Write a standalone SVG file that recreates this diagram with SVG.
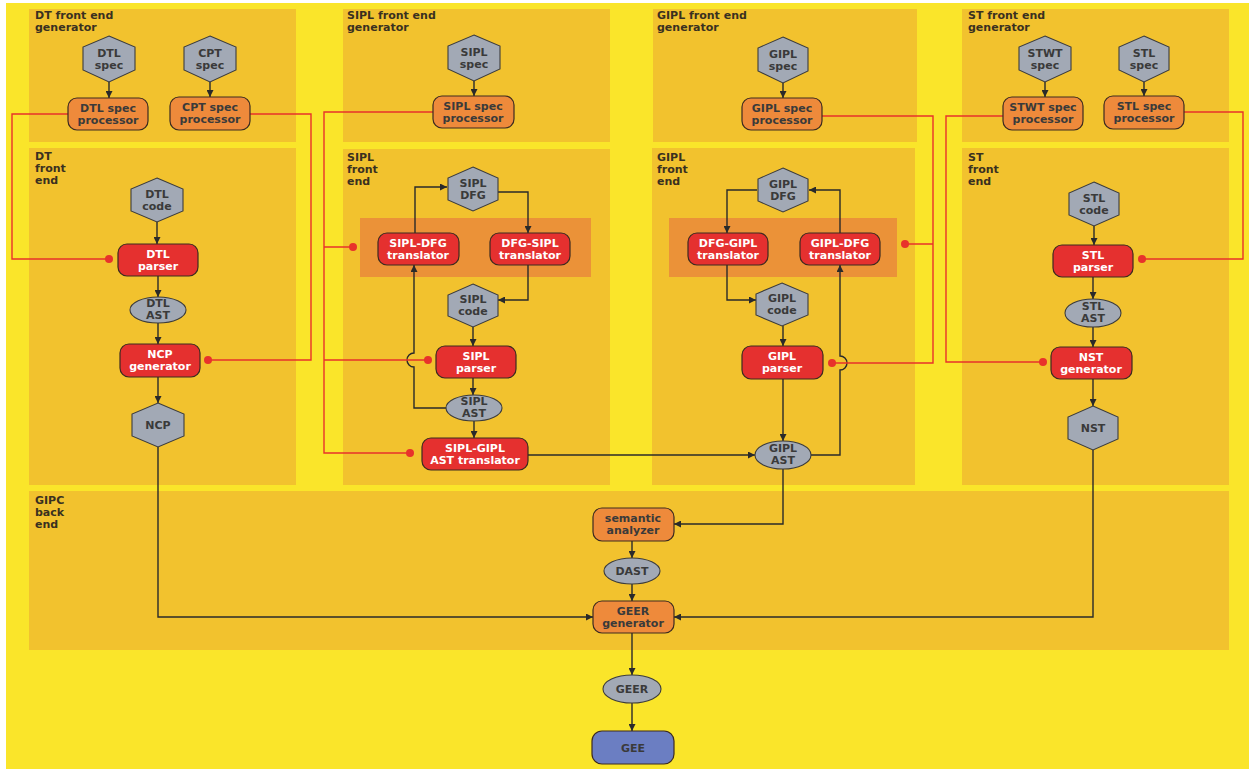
<svg xmlns="http://www.w3.org/2000/svg" width="1255" height="771" viewBox="0 0 1255 771">
<style>
.panel{fill:#F2C22E}
.band{fill:#EB9238}
.lbl{font-family:"DejaVu Sans",Verdana,sans-serif;font-weight:bold;font-size:11px;fill:#3A3020}
.t{font-family:"DejaVu Sans",Verdana,sans-serif;font-weight:bold;font-size:11px;text-anchor:middle;fill:#3A3A3A}
.w{fill:#FFFFFF}
.hex,.ell{fill:#A2A9B5;stroke:#3C3C3C;stroke-width:1.1}
.red{fill:#E5302F;stroke:#3C2A20;stroke-width:1.2}
.org{fill:#EE8A3B;stroke:#3C2A20;stroke-width:1.2}
.blue{fill:#6B7EC2;stroke:#3C2A20;stroke-width:1.2}
.c{fill:none;stroke:#2A2A2A;stroke-width:1.4}
.rl{fill:none;stroke:#E8322B;stroke-width:1.4}
.dot{fill:#E8322B}
</style>
<defs>
<marker id="ar" viewBox="0 0 10 10" refX="10" refY="5" markerWidth="7" markerHeight="7" markerUnits="userSpaceOnUse" orient="auto">
<path d="M0,0 L10,5 L0,10 z" fill="#2A2A2A"/>
</marker>
</defs>
<rect x="0" y="0" width="1255" height="771" fill="#FFFFFF"/>
<rect x="6" y="3" width="1243" height="766" fill="#FAE52A"/>

<g id="panels">
<rect class="panel" x="29" y="9" width="267" height="133"/>
<rect class="panel" x="29" y="148" width="267" height="337"/>
<rect class="panel" x="343" y="9" width="267" height="133"/>
<rect class="panel" x="343" y="149" width="267" height="336"/>
<rect class="panel" x="653" y="9" width="264" height="133"/>
<rect class="panel" x="652" y="148" width="263" height="337"/>
<rect class="panel" x="962" y="9" width="267" height="133"/>
<rect class="panel" x="962" y="148" width="267" height="337"/>
<rect class="panel" x="29" y="491" width="1200" height="159"/>
<rect class="band" x="360" y="218" width="231" height="59"/>
<rect class="band" x="669" y="218" width="228" height="59"/>
<text class="lbl" x="35" y="19">DT front end</text><text class="lbl" x="35" y="31">generator</text>
<text class="lbl" x="347" y="19">SIPL front end</text><text class="lbl" x="347" y="31">generator</text>
<text class="lbl" x="657" y="19">GIPL front end</text><text class="lbl" x="657" y="31">generator</text>
<text class="lbl" x="968" y="19">ST front end</text><text class="lbl" x="968" y="31">generator</text>
<text class="lbl" x="35" y="160">DT</text><text class="lbl" x="35" y="172">front</text><text class="lbl" x="35" y="184">end</text>
<text class="lbl" x="347" y="161">SIPL</text><text class="lbl" x="347" y="173">front</text><text class="lbl" x="347" y="185">end</text>
<text class="lbl" x="657" y="161">GIPL</text><text class="lbl" x="657" y="173">front</text><text class="lbl" x="657" y="185">end</text>
<text class="lbl" x="968" y="161">ST</text><text class="lbl" x="968" y="173">front</text><text class="lbl" x="968" y="185">end</text>
<text class="lbl" x="35" y="504">GIPC</text><text class="lbl" x="35" y="516">back</text><text class="lbl" x="35" y="528">end</text>
</g>

<g id="connectors">
<path class="c" marker-end="url(#ar)" d="M109,82 V98"/>
<path class="c" marker-end="url(#ar)" d="M210,82 V97"/>
<path class="c" marker-end="url(#ar)" d="M474,81 V96"/>
<path class="c" marker-end="url(#ar)" d="M783,83 V98"/>
<path class="c" marker-end="url(#ar)" d="M1045,82 V97"/>
<path class="c" marker-end="url(#ar)" d="M1144,82 V96"/>
<path class="c" marker-end="url(#ar)" d="M157,222 V244"/>
<path class="c" marker-end="url(#ar)" d="M158,276 V297"/>
<path class="c" marker-end="url(#ar)" d="M158,323 V344"/>
<path class="c" marker-end="url(#ar)" d="M158,377 V403"/>
<path class="c" marker-end="url(#ar)" d="M158,447 V617 H593"/>
<path class="c" marker-end="url(#ar)" d="M415,233 V187 H447"/>
<path class="c" marker-end="url(#ar)" d="M498,192 H528 V233"/>
<path class="c" marker-end="url(#ar)" d="M528,265 V300 H498"/>
<path class="c" marker-end="url(#ar)" d="M473,327 V346"/>
<path class="c" marker-end="url(#ar)" d="M473,378 V395"/>
<path class="c" marker-end="url(#ar)" d="M446,408 H414 V367 A7,7 0 0 1 414,353 V265"/>
<path class="c" marker-end="url(#ar)" d="M474,421 V438"/>
<path class="c" marker-end="url(#ar)" d="M528,455 H755"/>
<path class="c" marker-end="url(#ar)" d="M757,190 H727 V233"/>
<path class="c" marker-end="url(#ar)" d="M840,233 V190 H809"/>
<path class="c" marker-end="url(#ar)" d="M727,265 V300 H756"/>
<path class="c" marker-end="url(#ar)" d="M783,326 V346"/>
<path class="c" marker-end="url(#ar)" d="M783,379 V441"/>
<path class="c" marker-end="url(#ar)" d="M811,455 H840 V370 A7,7 0 0 0 840,356 V265"/>
<path class="c" marker-end="url(#ar)" d="M783,469 V524 H674"/>
<path class="c" marker-end="url(#ar)" d="M632,541 V558"/>
<path class="c" marker-end="url(#ar)" d="M632,584 V601"/>
<path class="c" marker-end="url(#ar)" d="M632,633 V675"/>
<path class="c" marker-end="url(#ar)" d="M632,703 V731"/>
<path class="c" marker-end="url(#ar)" d="M1094,226 V245"/>
<path class="c" marker-end="url(#ar)" d="M1093,277 V299"/>
<path class="c" marker-end="url(#ar)" d="M1093,327 V347"/>
<path class="c" marker-end="url(#ar)" d="M1093,379 V406"/>
<path class="c" marker-end="url(#ar)" d="M1093,450 V617 H674"/>
<path class="rl" d="M68,114 H12 V259 H109"/>
<circle class="dot" cx="109" cy="259" r="4"/>
<path class="rl" d="M250,114 H311 V360 H208"/>
<circle class="dot" cx="208" cy="360" r="4"/>
<path class="rl" d="M433,112 H324 V453 H410 M324,247 H353 M324,360 H428"/>
<circle class="dot" cx="353" cy="247" r="4"/>
<circle class="dot" cx="428" cy="360" r="4"/>
<circle class="dot" cx="410" cy="453" r="4"/>
<path class="rl" d="M822,116 H933 V363 H832 M933,244 H905"/>
<circle class="dot" cx="905" cy="244" r="4"/>
<circle class="dot" cx="832" cy="363" r="4"/>
<path class="rl" d="M1003,116 H946 V362 H1043"/>
<circle class="dot" cx="1043" cy="362" r="4"/>
<path class="rl" d="M1184,112 H1243 V259 H1142"/>
<circle class="dot" cx="1142" cy="259" r="4"/>
</g>

<g id="dtl-spec"><polygon class="hex" points="109,36 135,47 135,70 109,82 83,70 83,47"/><text class="t" x="109" y="57">DTL</text><text class="t" x="109" y="69">spec</text></g>
<g id="cpt-spec"><polygon class="hex" points="210,36 236,47 236,70 210,82 184,70 184,47"/><text class="t" x="210" y="57">CPT</text><text class="t" x="210" y="69">spec</text></g>
<g id="dtl-spec-processor"><rect class="org" x="68" y="98" width="80" height="32" rx="9"/><text class="t" x="108" y="112">DTL spec</text><text class="t" x="108" y="124">processor</text></g>
<g id="cpt-spec-processor"><rect class="org" x="170" y="97" width="80" height="33" rx="9"/><text class="t" x="210" y="111">CPT spec</text><text class="t" x="210" y="123">processor</text></g>

<g id="sipl-spec"><polygon class="hex" points="474,35 500,46 500,69 474,81 448,69 448,46"/><text class="t" x="474" y="56">SIPL</text><text class="t" x="474" y="68">spec</text></g>
<g id="sipl-spec-processor"><rect class="org" x="433" y="96" width="81" height="32" rx="9"/><text class="t" x="473" y="110">SIPL spec</text><text class="t" x="473" y="122">processor</text></g>

<g id="gipl-spec"><polygon class="hex" points="783,37 808,48 808,71 783,83 758,71 758,48"/><text class="t" x="783" y="58">GIPL</text><text class="t" x="783" y="70">spec</text></g>
<g id="gipl-spec-processor"><rect class="org" x="742" y="98" width="80" height="32" rx="9"/><text class="t" x="782" y="112">GIPL spec</text><text class="t" x="782" y="124">processor</text></g>

<g id="stwt-spec"><polygon class="hex" points="1045,36 1071,47 1071,70 1045,82 1019,70 1019,47"/><text class="t" x="1045" y="57">STWT</text><text class="t" x="1045" y="69">spec</text></g>
<g id="stl-spec"><polygon class="hex" points="1144,36 1169,47 1169,70 1144,82 1119,70 1119,47"/><text class="t" x="1144" y="57">STL</text><text class="t" x="1144" y="69">spec</text></g>
<g id="stwt-spec-processor"><rect class="org" x="1003" y="97" width="80" height="33" rx="9"/><text class="t" x="1043" y="111">STWT spec</text><text class="t" x="1043" y="123">processor</text></g>
<g id="stl-spec-processor"><rect class="org" x="1104" y="96" width="80" height="33" rx="9"/><text class="t" x="1144" y="110">STL spec</text><text class="t" x="1144" y="122">processor</text></g>

<g id="dtl-code"><polygon class="hex" points="157,178 183,189 183,211 157,222 131,211 131,189"/><text class="t" x="157" y="198">DTL</text><text class="t" x="157" y="210">code</text></g>
<g id="dtl-parser"><rect class="red" x="118" y="244" width="80" height="32" rx="9"/><text class="t w" x="158" y="258">DTL</text><text class="t w" x="158" y="270">parser</text></g>
<g id="dtl-ast"><ellipse class="ell" cx="158" cy="310" rx="28" ry="13"/><text class="t" x="158" y="307">DTL</text><text class="t" x="158" y="319">AST</text></g>
<g id="ncp-generator"><rect class="red" x="120" y="344" width="80" height="33" rx="9"/><text class="t w" x="160" y="358">NCP</text><text class="t w" x="160" y="370">generator</text></g>
<g id="ncp"><polygon class="hex" points="158,403 184,414 184,436 158,447 132,436 132,414"/><text class="t" x="158" y="429">NCP</text></g>

<g id="sipl-dfg"><polygon class="hex" points="473,167 498,178 498,200 473,211 448,200 448,178"/><text class="t" x="473" y="187">SIPL</text><text class="t" x="473" y="199">DFG</text></g>
<g id="sipl-dfg-translator"><rect class="red" x="378" y="233" width="81" height="32" rx="9"/><text class="t w" x="418" y="247">SIPL-DFG</text><text class="t w" x="418" y="259">translator</text></g>
<g id="dfg-sipl-translator"><rect class="red" x="490" y="233" width="80" height="32" rx="9"/><text class="t w" x="530" y="247">DFG-SIPL</text><text class="t w" x="530" y="259">translator</text></g>
<g id="sipl-code"><polygon class="hex" points="473,284 498,295 498,316 473,327 448,316 448,295"/><text class="t" x="473" y="303">SIPL</text><text class="t" x="473" y="315">code</text></g>
<g id="sipl-parser"><rect class="red" x="436" y="346" width="80" height="32" rx="9"/><text class="t w" x="476" y="360">SIPL</text><text class="t w" x="476" y="372">parser</text></g>
<g id="sipl-ast"><ellipse class="ell" cx="474" cy="408" rx="28" ry="13"/><text class="t" x="474" y="405">SIPL</text><text class="t" x="474" y="417">AST</text></g>
<g id="sipl-gipl-ast-translator"><rect class="red" x="422" y="438" width="106" height="32" rx="9"/><text class="t w" x="475" y="452">SIPL-GIPL</text><text class="t w" x="475" y="464">AST translator</text></g>

<g id="gipl-dfg"><polygon class="hex" points="783,168 808,179 808,201 783,212 758,201 758,179"/><text class="t" x="783" y="188">GIPL</text><text class="t" x="783" y="200">DFG</text></g>
<g id="dfg-gipl-translator"><rect class="red" x="688" y="233" width="80" height="32" rx="9"/><text class="t w" x="728" y="247">DFG-GIPL</text><text class="t w" x="728" y="259">translator</text></g>
<g id="gipl-dfg-translator"><rect class="red" x="800" y="233" width="80" height="32" rx="9"/><text class="t w" x="840" y="247">GIPL-DFG</text><text class="t w" x="840" y="259">translator</text></g>
<g id="gipl-code"><polygon class="hex" points="782,283 808,294 808,315 782,326 756,315 756,294"/><text class="t" x="782" y="302">GIPL</text><text class="t" x="782" y="314">code</text></g>
<g id="gipl-parser"><rect class="red" x="742" y="346" width="81" height="33" rx="9"/><text class="t w" x="782" y="360">GIPL</text><text class="t w" x="782" y="372">parser</text></g>
<g id="gipl-ast"><ellipse class="ell" cx="783" cy="455" rx="28" ry="14"/><text class="t" x="783" y="452">GIPL</text><text class="t" x="783" y="464">AST</text></g>

<g id="stl-code"><polygon class="hex" points="1094,182 1119,193 1119,215 1094,226 1069,215 1069,193"/><text class="t" x="1094" y="202">STL</text><text class="t" x="1094" y="214">code</text></g>
<g id="stl-parser"><rect class="red" x="1053" y="245" width="80" height="32" rx="9"/><text class="t w" x="1093" y="259">STL</text><text class="t w" x="1093" y="271">parser</text></g>
<g id="stl-ast"><ellipse class="ell" cx="1093" cy="313" rx="28" ry="14"/><text class="t" x="1093" y="310">STL</text><text class="t" x="1093" y="322">AST</text></g>
<g id="nst-generator"><rect class="red" x="1051" y="347" width="81" height="32" rx="9"/><text class="t w" x="1091" y="361">NST</text><text class="t w" x="1091" y="373">generator</text></g>
<g id="nst"><polygon class="hex" points="1093,406 1118,417 1118,439 1093,450 1068,439 1068,417"/><text class="t" x="1093" y="432">NST</text></g>

<g id="semantic-analyzer"><rect class="org" x="593" y="508" width="81" height="33" rx="9"/><text class="t" x="633" y="522">semantic</text><text class="t" x="633" y="534">analyzer</text></g>
<g id="dast"><ellipse class="ell" cx="632" cy="571" rx="28" ry="13"/><text class="t" x="632" y="575">DAST</text></g>
<g id="geer-generator"><rect class="org" x="593" y="601" width="81" height="32" rx="9"/><text class="t" x="633" y="615">GEER</text><text class="t" x="633" y="627">generator</text></g>
<g id="geer"><ellipse class="ell" cx="632" cy="689" rx="29" ry="14"/><text class="t" x="632" y="693">GEER</text></g>
<g id="gee"><rect class="blue" x="592" y="731" width="82" height="33" rx="10"/><text class="t" x="633" y="752">GEE</text></g>
</svg>
